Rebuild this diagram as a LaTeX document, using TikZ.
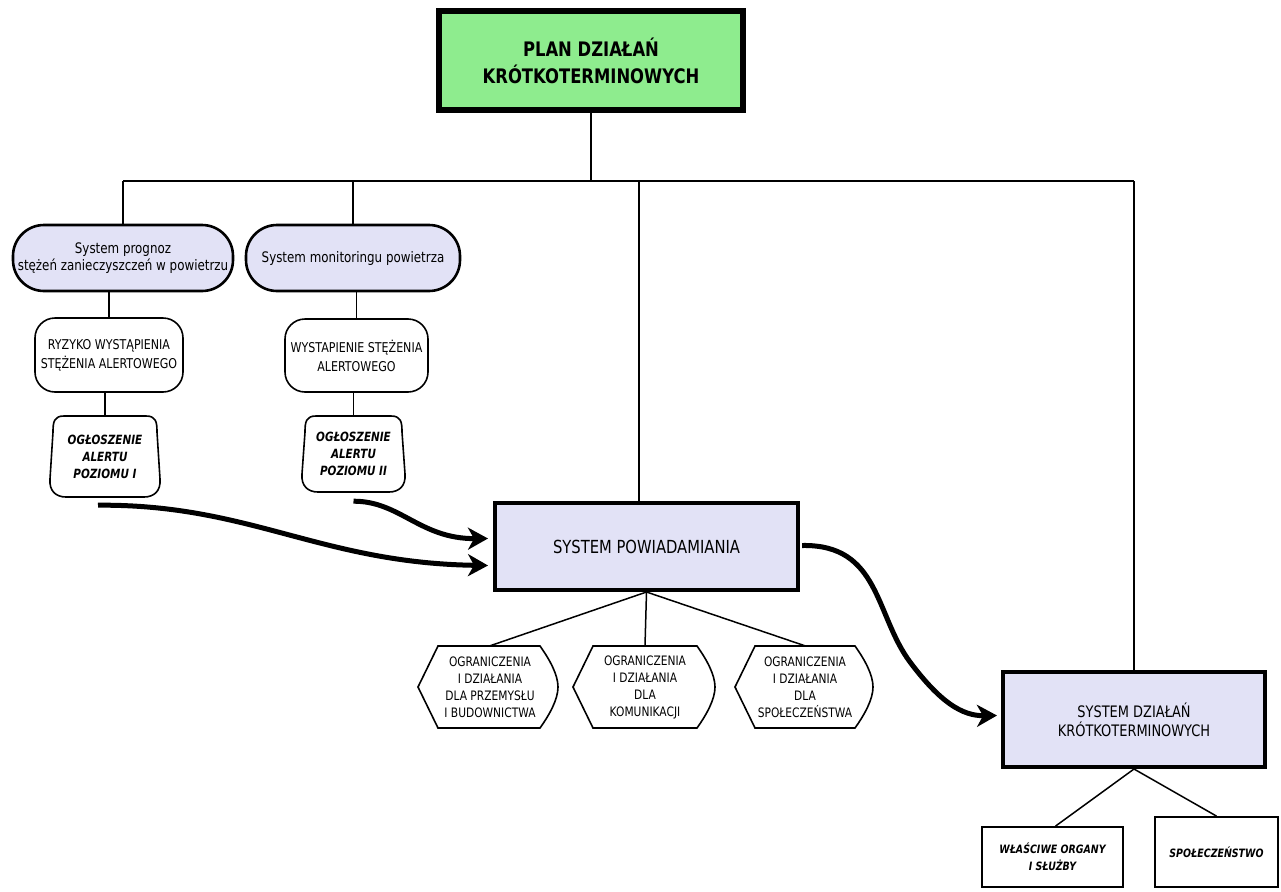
\documentclass[tikz,border=0pt]{standalone}
\usepackage{fontspec}
\setmainfont{DejaVu Sans}[FakeStretch=0.82]
\usetikzlibrary{arrows.meta,calc}
\definecolor{lav}{RGB}{226,226,246}
\definecolor{lgreen}{RGB}{142,236,142}
\newcommand\alertbox[4]{%
  \draw[shapeline] (#1+14,#2) -- (#3-14,#2) .. controls (#3-4,#2) and (#3-3,#2+6) .. (#3-3,#2+16)
   -- (#3,#4-18) .. controls (#3+1,#4-6) and (#3-6,#4) .. (#3-16,#4)
   -- (#1+16,#4) .. controls (#1+6,#4) and (#1-1,#4-6) .. (#1,#4-18)
   -- (#1+3,#2+16) .. controls (#1+3,#2+6) and (#1+4,#2) .. (#1+14,#2) -- cycle;}
\newcommand\hexbox[4]{%
  \draw[shapeline] (#1+20,#2) -- (#3-18,#2) .. controls (#3-8,#2+14) and (#3,{(#2+#4)/2-12}) .. (#3,{(#2+#4)/2})
   .. controls (#3,{(#2+#4)/2+12}) and (#3-8,#4-14) .. (#3-18,#4)
   -- (#1+20,#4) -- (#1,{(#2+#4)/2}) -- cycle;}
\begin{document}
\begin{tikzpicture}[x=1pt,y=-1pt,
  conn/.style={line width=1.5pt},
  shapeline/.style={line width=1.6pt},
  bigarrow/.style={line width=5pt,-{Stealth[length=20pt,width=22pt,inset=6pt]}},
  blank/.style={inner sep=0pt,align=center},
  sysnode/.style={blank,draw,line width=2.6pt,fill=lav,rounded corners=31pt,
     font=\fontsize{14.5}{17}\selectfont},
  risknode/.style={blank,draw,line width=1.6pt,rounded corners=20pt,
     font=\fontsize{13.5}{19}\selectfont},
  alertnode/.style={blank,font=\fontsize{12.7}{17}\selectfont\bfseries\itshape},
  hexnode/.style={blank,font=\fontsize{13}{17}\selectfont},
  bigbox/.style={blank,draw,line width=4pt,fill=lav},
  smallbox/.style={blank,draw,line width=1.8pt,font=\fontsize{11.5}{17}\selectfont\bfseries\itshape}
]
\useasboundingbox (0,0) rectangle (1281,891);
\fill[white] (0,0) rectangle (1281,891);

% top box
\node[blank,draw,line width=6pt,fill=lgreen,minimum width=304pt,minimum height=99pt,
  font=\fontsize{20}{27}\selectfont\bfseries] (plan) at (591,60.5)
  {PLAN DZIAŁAŃ\\KRÓTKOTERMINOWYCH};

% upper nodes
\node[sysnode,minimum width=220pt,minimum height=66pt] (n1) at (123,258)
  {System prognoz\\stężeń zanieczyszczeń w powietrzu};
\node[sysnode,minimum width=214pt,minimum height=66pt] (n2) at (353,258)
  {System monitoringu powietrza};
\node[risknode,minimum width=148pt,minimum height=74pt] (n3) at (109,355)
  {RYZYKO WYSTĄPIENIA\\STĘŻENIA ALERTOWEGO};
\node[risknode,minimum width=143pt,minimum height=73pt] (n4) at (356.5,355.5)
  {WYSTAPIENIE STĘŻENIA\\ALERTOWEGO};
\alertbox{50}{416}{160}{497}
\node[alertnode,minimum width=110pt,minimum height=81pt] (n5) at (105,456.5)
  {OGŁOSZENIE\\ALERTU\\POZIOMU I};
\alertbox{302}{416}{405}{492}
\node[alertnode,minimum width=103pt,minimum height=76pt] (n6) at (353.5,454)
  {OGŁOSZENIE\\ALERTU\\POZIOMU II};

% system boxes
\node[bigbox,minimum width=303pt,minimum height=87pt,font=\fontsize{18}{21}\selectfont]
  (sp) at (646.5,546.5) {SYSTEM POWIADAMIANIA};
\node[bigbox,minimum width=262pt,minimum height=95pt,font=\fontsize{15.8}{19}\selectfont]
  (sd) at (1134,719.5) {SYSTEM DZIAŁAŃ\\KRÓTKOTERMINOWYCH};

% hexagons
\hexbox{418}{646}{558}{728}
\node[hexnode,minimum width=140pt,minimum height=82pt] (h1) at (490,687)
  {OGRANICZENIA\\I DZIAŁANIA\\DLA PRZEMYSŁU\\I BUDOWNICTWA};
\hexbox{573}{646}{715}{728}
\node[hexnode,minimum width=142pt,minimum height=82pt] (h2) at (645,687)
  {OGRANICZENIA\\I DZIAŁANIA\\DLA\\KOMUNIKACJI};
\hexbox{735}{646}{873}{728}
\node[hexnode,minimum width=138pt,minimum height=82pt] (h3) at (805,687)
  {OGRANICZENIA\\I DZIAŁANIA\\DLA\\SPOŁECZEŃSTWA};

% bottom boxes
\node[smallbox,minimum width=141pt,minimum height=60pt] (b1) at (1052.5,857)
  {WŁAŚCIWE ORGANY\\I SŁUŻBY};
\node[smallbox,minimum width=123pt,minimum height=70pt] (b2) at (1216.5,852)
  {SPOŁECZEŃSTWO};

% tree connectors
\coordinate (bus) at (591,181);
\coordinate (dsp) at (639,181);
\draw[conn] (plan.south) -- (bus);
\draw[conn] (n1.north |- bus) -- (sd.north |- bus);
\draw[conn] (n1.north |- bus) -- (n1.north);
\draw[conn] (n2.north |- bus) -- (n2.north);
\draw[conn] (dsp) -- (dsp |- sp.north);
\draw[conn] (sd.north |- bus) -- (sd.north);
\draw[conn] (n3.north |- n1.south) -- (n3.north);
\draw[conn] (n5.north |- n3.south) -- (n5.north);
\draw[conn] (n4.north |- n2.south) -- (n4.north);
\draw[conn] (n6.north |- n4.south) -- (n6.north);
\draw[conn] (sp.south) -- (h1.north);
\draw[conn] (sp.south) -- (h2.north);
\draw[conn] (sp.south) -- (h3.north);
\draw[conn] (sd.south) -- ($(b1.north)+(3,0)$);
\draw[conn] (sd.south) -- (b2.north);

% thick arrows
\draw[bigarrow] ($(n5.south)+(-7,8)$) .. controls (250,504) and (320,563) .. ($(sp.west)+(-5,19)$);
\draw[bigarrow] ($(n6.south)+(0,9)$) .. controls (400,501) and (420,539) .. ($(sp.west)+(-5,-8)$);
\draw[bigarrow] ($(sp.east)+(2,-1)$) .. controls (880,544) and (875,615) .. (910,662)
   .. controls (940,702) and (962,716) .. ($(sd.west)+(-4,-4)$);
\end{tikzpicture}
\end{document}
